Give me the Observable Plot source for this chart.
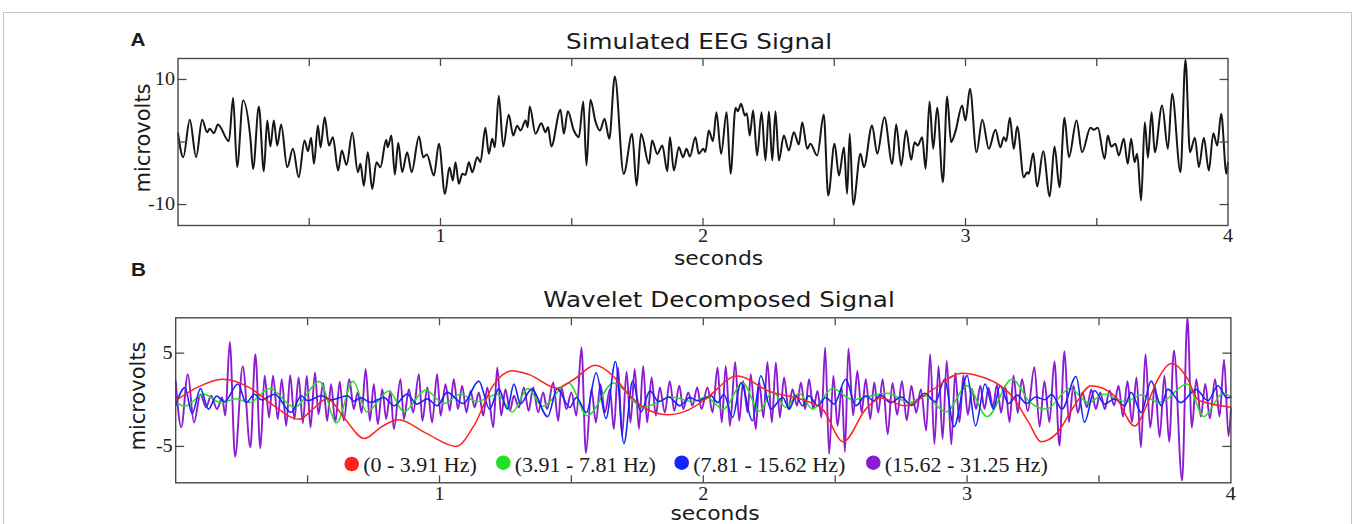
<!DOCTYPE html>
<html><head><meta charset="utf-8">
<script src="https://cdn.jsdelivr.net/npm/d3@7"></script>
<script src="https://cdn.jsdelivr.net/npm/@observablehq/plot@0.6"></script>
<style>
body{margin:0;background:#fff;}
#wrap{position:relative;width:1355px;height:524px;overflow:hidden;background:#fff;}
#wrap svg{position:absolute;left:0;}
#border{position:absolute;left:3px;top:12px;width:1349px;height:600px;border:1px solid #c4c4c4;box-sizing:border-box;pointer-events:none;}
</style></head><body><div id="wrap"></div>
<script>
// ---------- data (seconds, microvolts) ----------
const eegPoints = [[0,1.4],[0.02,-2.43],[0.045,3.55],[0.069,-2.43],[0.092,3.55],[0.111,1.57],[0.121,2.1],[0.137,1.41],[0.152,2.8],[0.194,0.13],[0.21,7.07],[0.225,-4.03],[0.248,6.64],[0.276,0.5],[0.286,-4.29],[0.308,5.68],[0.327,-4.67],[0.34,3.44],[0.352,-0.72],[0.365,3.44],[0.378,-0.56],[0.393,2.8],[0.416,-4.03],[0.438,-1.09],[0.46,-5.63],[0.482,0.24],[0.495,-1.47],[0.507,0.67],[0.518,-3.49],[0.533,2.64],[0.543,-0.83],[0.559,3.97],[0.575,-0.56],[0.59,0.77],[0.61,-4.56],[0.624,-1.36],[0.642,-3.65],[0.664,1.47],[0.685,-4.83],[0.695,-3.49],[0.708,-6.99],[0.723,-1.63],[0.74,-7.52],[0.756,-3.23],[0.771,-4.03],[0.793,0.35],[0.799,-0.83],[0.813,1.04],[0.826,-5.2],[0.839,-0.13],[0.854,-4.83],[0.873,-1.63],[0.89,-4.83],[0.918,0.88],[0.934,-2.43],[0.948,-2.0],[0.975,-5.36],[0.994,-0.29],[1.017,-8.29],[1.034,-4.03],[1.047,-6.16],[1.057,-3.23],[1.07,-6.69],[1.083,-5.09],[1.095,-5.25],[1.108,-3.23],[1.121,-4.83],[1.14,-2.43],[1.152,-3.23],[1.171,2.27],[1.184,-1.89],[1.197,0.51],[1.207,-0.83],[1.222,7.4],[1.239,-0.72],[1.26,4.35],[1.277,1.04],[1.292,2.6],[1.305,1.84],[1.324,3.44],[1.332,2.37],[1.34,5.68],[1.362,1.31],[1.384,3.01],[1.4,1.57],[1.41,2.4],[1.422,-0.72],[1.457,5.15],[1.47,1.31],[1.485,4.93],[1.508,1.84],[1.527,0.77],[1.544,6.48],[1.556,-3.76],[1.571,6.75],[1.591,3.17],[1.607,1.84],[1.625,3.71],[1.643,0.51],[1.664,10.48],[1.698,-5.09],[1.73,1.31],[1.747,-6.96],[1.764,1.31],[1.794,-3.49],[1.806,0.24],[1.826,-1.9],[1.845,-0.56],[1.864,-4.67],[1.874,0.77],[1.889,-4.56],[1.908,-0.83],[1.924,-2.43],[1.937,-1.09],[1.95,-2.32],[1.971,0.77],[1.984,-1.89],[2.001,-1.09],[2.009,-1.6],[2.022,1.84],[2.038,0.13],[2.051,4.77],[2.069,-1.89],[2.09,4.77],[2.105,-5.09],[2.124,5.47],[2.133,4.93],[2.145,6.1],[2.16,4.24],[2.167,4.61],[2.178,1.04],[2.191,5.04],[2.206,-2.16],[2.223,4.77],[2.238,-2.96],[2.251,4.88],[2.264,-2.96],[2.276,4.93],[2.289,-2.96],[2.308,1.04],[2.327,-1.36],[2.346,1.57],[2.365,-0.4],[2.378,3.17],[2.397,-1.09],[2.409,-0.29],[2.435,-2.16],[2.46,4.4],[2.477,-8.56],[2.501,-0.29],[2.518,-5.36],[2.537,-0.83],[2.549,-8.29],[2.559,1.31],[2.572,-10.05],[2.6,-1.89],[2.613,-4.03],[2.644,2.64],[2.664,-1.89],[2.691,3.97],[2.721,-3.49],[2.736,2.8],[2.755,-3.76],[2.774,1.84],[2.793,-2.85],[2.806,-0.03],[2.818,-0.56],[2.835,0.77],[2.848,-4.29],[2.863,6.48],[2.877,-1.09],[2.892,5.47],[2.914,-6.43],[2.93,7.28],[2.945,-0.03],[2.962,1.73],[2.987,5.84],[3.0,3.44],[3.017,8.51],[3.042,-1.63],[3.064,3.55],[3.089,-1.09],[3.114,1.95],[3.133,-0.83],[3.146,0.77],[3.155,0.13],[3.169,3.87],[3.184,-1.09],[3.197,2.48],[3.222,-5.63],[3.235,-4.83],[3.241,-5.09],[3.258,-1.79],[3.273,-7.12],[3.296,-1.47],[3.321,-8.72],[3.339,-0.72],[3.358,-7.23],[3.377,3.87],[3.394,-2.43],[3.423,3.44],[3.444,-1.63],[3.476,2.27],[3.489,1.95],[3.504,2.27],[3.53,-2.69],[3.542,1.04],[3.555,-0.72],[3.571,-0.29],[3.584,-2.16],[3.603,0.51],[3.618,-3.49],[3.631,0.51],[3.644,-3.23],[3.654,-1.89],[3.669,-9.36],[3.683,3.17],[3.695,-2.53],[3.709,4.77],[3.721,-1.63],[3.749,5.84],[3.771,-1.09],[3.787,7.71],[3.819,-4.83],[3.838,13.15],[3.855,-1.63],[3.874,0.67],[3.889,-4.03],[3.908,0.67],[3.927,-4.56],[3.944,1.41],[3.959,-0.56],[3.974,4.51],[3.994,-5.09],[4.0,-3.3]];

const band1Points = [[0,-0.1],[0.08,1.3],[0.178,2.2],[0.28,1.3],[0.37,-0.6],[0.467,-2.1],[0.52,-1.0],[0.575,0.1],[0.64,-2.0],[0.715,-4.15],[0.78,-2.9],[0.845,-2.15],[0.95,-3.6],[1.063,-5.0],[1.13,-2.8],[1.205,1.6],[1.275,3.1],[1.34,2.7],[1.445,1.25],[1.51,2.2],[1.59,3.7],[1.66,2.5],[1.71,0.8],[1.773,-0.8],[1.865,-1.6],[1.95,-1.0],[2.005,0.0],[2.13,2.55],[2.25,0.9],[2.376,0.0],[2.452,-1.0],[2.53,-4.5],[2.616,-1.0],[2.672,0.2],[2.765,-0.65],[2.87,1.1],[2.98,2.85],[3.05,2.5],[3.11,1.8],[3.17,0.4],[3.233,-2.4],[3.28,-4.5],[3.34,-3.6],[3.41,-0.5],[3.47,1.5],[3.56,0.4],[3.635,-2.8],[3.685,-0.3],[3.723,2.2],[3.774,3.9],[3.837,2.2],[3.875,0.0],[3.92,-0.4],[4.0,-0.8]];

const band2Points = [[0,-0.2],[0.033,-0.7],[0.107,0.6],[0.17,-0.3],[0.23,0.1],[0.28,-0.3],[0.356,1.2],[0.45,-0.8],[0.545,1.95],[0.61,-2.45],[0.672,2.0],[0.725,-1.3],[0.808,0.95],[0.865,-1.3],[0.947,1.05],[1.016,-0.4],[1.08,0.6],[1.143,-0.2],[1.219,0.6],[1.276,-1.3],[1.335,1.2],[1.39,-0.7],[1.49,1.8],[1.56,-1.7],[1.66,1.8],[1.773,-0.8],[1.88,0.3],[1.96,-0.2],[2.01,0.3],[2.075,-1.0],[2.15,1.8],[2.212,-1.2],[2.263,0.86],[2.313,-0.8],[2.363,0.7],[2.414,-1.0],[2.49,1.2],[2.566,0.0],[2.6,0.2],[2.7,0.7],[2.78,-0.3],[2.84,0.4],[2.92,-1.3],[3.0,1.5],[3.076,-1.8],[3.17,2.2],[3.24,-0.3],[3.3,-1.0],[3.39,1.2],[3.46,-0.3],[3.52,0.6],[3.6,-0.2],[3.66,0.5],[3.73,-0.3],[3.834,1.7],[3.897,-1.8],[3.97,0.7],[4.0,0.3]];

const band3Points = [[0,-0.6],[0.035,1.3],[0.062,-1.5],[0.094,1.2],[0.124,-1.0],[0.155,0.4],[0.185,-0.2],[0.236,1.7],[0.267,-0.3],[0.299,0.6],[0.324,0.0],[0.375,0.6],[0.438,-1.36],[0.476,0.43],[0.501,-0.1],[0.551,0.43],[0.589,0.0],[0.652,0.43],[0.675,-0.15],[0.701,0.2],[0.739,-0.29],[0.789,0.25],[0.827,-0.64],[0.877,0.61],[0.915,-0.46],[0.954,0.1],[0.991,-0.64],[1.029,0.79],[1.09,-0.4],[1.149,2.0],[1.19,-1.0],[1.225,1.2],[1.257,-1.0],[1.282,1.68],[1.307,-0.43],[1.349,1.14],[1.41,-1.8],[1.446,1.2],[1.494,-0.82],[1.519,0.25],[1.557,-1.36],[1.594,2.9],[1.631,-2.0],[1.667,4.1],[1.699,-4.7],[1.732,2.0],[1.764,-1.3],[1.798,0.96],[1.83,-0.2],[1.87,0.3],[1.911,-0.64],[1.949,0.25],[1.98,-0.1],[2.029,0.43],[2.055,-0.3],[2.078,0.6],[2.111,-1.9],[2.143,1.86],[2.186,-2.25],[2.218,2.57],[2.256,-1.0],[2.301,0.25],[2.326,-1.0],[2.351,0.43],[2.376,-0.64],[2.401,0.43],[2.433,-0.64],[2.464,0.25],[2.496,-0.46],[2.54,2.2],[2.578,-0.64],[2.616,0.43],[2.645,-0.1],[2.672,0.5],[2.71,-0.3],[2.75,0.3],[2.79,-0.6],[2.84,0.7],[2.88,-0.2],[2.915,2.2],[2.95,-2.9],[3.0,2.6],[3.032,-2.8],[3.068,1.7],[3.1,-1.0],[3.125,1.5],[3.157,-0.4],[3.19,0.5],[3.225,-0.4],[3.26,0.3],[3.296,0.0],[3.32,0.6],[3.36,-1.0],[3.413,2.5],[3.445,-2.4],[3.483,1.0],[3.521,-0.46],[3.559,0.1],[3.597,-0.64],[3.622,0.8],[3.66,-1.36],[3.698,2.0],[3.736,-0.64],[3.761,1.14],[3.81,-0.3],[3.868,1.1],[3.913,-0.1],[3.951,1.5],[3.985,0.2],[4.0,0.3]];

const band4Points = [[0,2.0],[0.021,-2.96],[0.046,2.75],[0.069,-2.43],[0.094,0.6],[0.115,-0.8],[0.134,0.43],[0.157,-1.0],[0.176,0.25],[0.188,-1.7],[0.205,6.2],[0.225,-6.1],[0.254,3.6],[0.283,-5.1],[0.302,4.9],[0.321,-5.2],[0.337,2.57],[0.354,-1.9],[0.369,2.57],[0.387,-2.07],[0.402,2.2],[0.419,-2.8],[0.434,2.64],[0.45,-2.1],[0.466,2.4],[0.482,-2.5],[0.497,2.57],[0.511,-2.96],[0.528,2.93],[0.541,-1.54],[0.559,1.8],[0.574,-2.25],[0.589,1.68],[0.605,-2.43],[0.622,1.93],[0.637,-2.25],[0.658,2.2],[0.675,-1.0],[0.69,0.8],[0.705,-1.4],[0.72,3.3],[0.736,-2.25],[0.751,1.68],[0.766,-2.6],[0.783,1.14],[0.798,-2.07],[0.814,0.96],[0.827,-3.14],[0.852,2.2],[0.865,-2.07],[0.884,1.14],[0.9,-1.36],[0.922,2.75],[0.935,-2.25],[0.954,1.32],[0.972,-2.43],[0.991,2.75],[1.004,-1.7],[1.023,1.68],[1.039,-1.18],[1.054,2.2],[1.07,-1.0],[1.086,1.5],[1.102,-1.36],[1.118,0.96],[1.133,-0.82],[1.149,0.79],[1.166,-1.7],[1.181,1.32],[1.204,-2.96],[1.219,3.46],[1.234,-1.7],[1.25,1.14],[1.267,-1.18],[1.282,0.43],[1.301,-0.82],[1.32,1.32],[1.338,-1.2],[1.355,1.32],[1.374,-1.36],[1.393,0.79],[1.408,-1.0],[1.431,1.86],[1.45,-2.25],[1.462,1.32],[1.481,-1.0],[1.5,0.79],[1.519,-1.7],[1.538,5.6],[1.555,-5.7],[1.576,1.14],[1.593,-2.43],[1.61,1.68],[1.627,-1.36],[1.646,1.14],[1.661,-3.14],[1.677,3.46],[1.692,-3.86],[1.709,3.0],[1.724,-2.43],[1.74,3.3],[1.756,-3.14],[1.772,3.64],[1.787,-2.43],[1.804,2.4],[1.82,-1.7],[1.835,1.32],[1.854,-1.36],[1.873,2.0],[1.89,-1.18],[1.909,1.5],[1.924,-1.0],[1.943,0.79],[1.959,-0.64],[1.977,1.32],[1.993,-1.0],[2.016,1.32],[2.035,-1.36],[2.054,3.46],[2.07,-2.43],[2.085,3.64],[2.101,-2.8],[2.121,4.07],[2.136,-2.25],[2.151,2.0],[2.168,-1.36],[2.18,2.75],[2.199,-3.14],[2.212,1.86],[2.228,-1.9],[2.243,4.07],[2.26,-2.43],[2.275,4.0],[2.29,-1.9],[2.306,2.4],[2.323,-1.0],[2.338,1.14],[2.355,-0.64],[2.37,1.86],[2.386,-1.0],[2.401,2.2],[2.417,-1.0],[2.433,0.96],[2.448,-1.9],[2.462,5.6],[2.477,-5.8],[2.493,2.57],[2.509,-2.8],[2.525,1.32],[2.537,-5.6],[2.55,5.5],[2.568,-1.7],[2.584,3.1],[2.6,-1.36],[2.616,2.2],[2.633,-2.07],[2.648,1.86],[2.663,-1.36],[2.68,2.2],[2.699,-3.7],[2.717,1.8],[2.735,-1.6],[2.753,2.0],[2.771,-2.2],[2.789,1.5],[2.807,-1.4],[2.825,1.1],[2.845,-3.3],[2.86,4.9],[2.876,-4.75],[2.892,3.64],[2.907,-4.2],[2.923,4.2],[2.94,-4.8],[2.955,2.9],[2.971,-2.4],[2.986,2.6],[3.003,-1.6],[3.018,1.2],[3.034,-1.0],[3.05,1.5],[3.066,-1.0],[3.081,1.3],[3.098,-0.8],[3.113,1.6],[3.129,-1.4],[3.144,1.5],[3.161,-2.4],[3.176,2.6],[3.192,-1.4],[3.208,2.2],[3.23,-1.2],[3.255,3.5],[3.275,-2.9],[3.293,2.0],[3.312,-2.4],[3.331,4.1],[3.35,-4.9],[3.369,5.2],[3.386,-2.4],[3.403,1.5],[3.42,-1.4],[3.437,0.8],[3.454,-0.8],[3.471,1.1],[3.488,-1.0],[3.505,0.8],[3.522,-1.0],[3.54,1.0],[3.557,-0.6],[3.574,1.5],[3.591,-1.8],[3.608,2.0],[3.625,-2.4],[3.642,2.4],[3.659,-5.1],[3.676,4.9],[3.694,-3.0],[3.712,1.5],[3.73,-4.0],[3.748,2.6],[3.766,-4.5],[3.784,5.3],[3.815,-8.65],[3.835,8.8],[3.852,-3.0],[3.869,2.2],[3.886,-1.8],[3.903,1.7],[3.92,-2.0],[3.94,2.2],[3.957,-1.8],[3.974,4.3],[3.991,-3.9],[4.0,-1.0]];

const bandLabels = ["(0 - 3.91 Hz)", "(3.91 - 7.81 Hz)", "(7.81 - 15.62 Hz)", "(15.62 - 31.25 Hz)"];
const bandColors = ["#ff2020", "#22e022", "#1424ff", "#8c1ccf"];
const xTickMarks = [0.5, 1, 1.5, 2, 2.5, 3, 3.5];
const xTickLabels = [1, 2, 3, 4];
const yTickMarksA = [-10, 0, 10];
const yTickLabelsA = [-10, 10];
const yTickMarksB = [-5, 5];
const yTickLabelsB = [-5, 5];

// ---------- rendering ----------
const wrap = document.getElementById("wrap");
const SERIF = "'Liberation Serif', 'Times New Roman', serif";
const SANS = "'DejaVu Sans', sans-serif";
const toRows = pts => pts.map(([t, v]) => ({t, v}));

function axesMarks(yMarks, yLabels) {
  return [
    Plot.frame({stroke: "#4a4a4a", strokeWidth: 1.4}),
    Plot.axisX(xTickMarks, {anchor: "bottom", tickSize: -7, tickFormat: () => "", label: null, stroke: "#4a4a4a", strokeWidth: 1.3}),
    Plot.axisX(xTickMarks, {anchor: "top", tickSize: -7, tickFormat: () => "", label: null, stroke: "#4a4a4a", strokeWidth: 1.3}),
    Plot.axisX(xTickLabels, {anchor: "bottom", tickSize: 0, tickPadding: 4, fontSize: 18, fontFamily: SERIF, label: null, tickFormat: d => String(d), fill: "#222"}),
    Plot.axisY(yMarks, {anchor: "left", tickSize: -9, tickFormat: () => "", label: null, stroke: "#4a4a4a", strokeWidth: 1.3}),
    Plot.axisY(yMarks, {anchor: "right", tickSize: -9, tickFormat: () => "", label: null, stroke: "#4a4a4a", strokeWidth: 1.3}),
    Plot.axisY(yLabels, {anchor: "left", tickSize: 0, tickPadding: 3, fontSize: 18, fontFamily: SERIF, label: null, tickFormat: d => String(d), fill: "#222"})
  ];
}

const plotA = Plot.plot({
  width: 1355, height: 270,
  marginLeft: 177.5, marginRight: 127.5, marginTop: 58, marginBottom: 45,
  style: {background: "transparent"},
  x: {domain: [0, 4]},
  y: {domain: [-13.35, 13.35]},
  marks: [
    Plot.line(toRows(eegPoints), {x: "t", y: "v", stroke: "#161616", strokeWidth: 2, curve: "monotone-x"}),
    ...axesMarks(yTickMarksA, yTickLabelsA)
  ]
});
plotA.style.top = "0px";

const bandPoints = [band1Points, band2Points, band3Points, band4Points];
const drawOrder = [3, 1, 2, 0];
const widths = [1.5, 1.5, 1.6, 1.9];
const plotB = Plot.plot({
  width: 1355, height: 254,
  marginLeft: 175.2, marginRight: 124.6, marginTop: 47.3, marginBottom: 41.7,
  style: {background: "transparent"},
  x: {domain: [0, 4]},
  y: {domain: [-8.9, 8.79]},
  marks: [
    ...drawOrder.map(k => Plot.line(toRows(bandPoints[k]), {x: "t", y: "v", stroke: bandColors[k], strokeWidth: widths[k], curve: "monotone-x"})),
    ...axesMarks(yTickMarksB, yTickLabelsB)
  ]
});
plotB.style.top = "270px";

// stretch tick labels horizontally like the reference
for (const p of [plotA, plotB]) {
  d3.select(p).selectAll("text").each(function() {
    const t = this.getAttribute("transform") || "";
    this.setAttribute("transform", t + " scale(1.12,1)");
  });
}

wrap.appendChild(plotA);
wrap.appendChild(plotB);

// overlay text layer
const ov = d3.create("svg").attr("width", 1355).attr("height", 524).style("top", "0px").style("pointer-events", "none");
function txt(str, x, y, size, family, opts = {}) {
  const sx = opts.sx ?? 1.12;
  const rot = opts.rotate ? " rotate(-90)" : "";
  ov.append("text").text(str)
    .attr("transform", `translate(${x},${y})${rot} scale(${sx},1)`)
    .attr("font-size", size).attr("font-family", family)
    .attr("font-weight", opts.bold ? "bold" : "normal")
    .attr("text-anchor", opts.anchor || "middle")
    .attr("fill", opts.fill || "#1a1a1a");
}
txt("A", 130.5, 46, 18.5, "'Liberation Sans', Arial, sans-serif", {bold: true, anchor: "start"});
txt("B", 131, 276, 18.5, "'Liberation Sans', Arial, sans-serif", {bold: true, anchor: "start"});
txt("Simulated EEG Signal", 699, 49, 22, SANS);
txt("Wavelet Decomposed Signal", 719, 306.5, 22, SANS);
txt("seconds", 718.5, 265, 19.5, SANS);
txt("seconds", 715, 520, 19.5, SANS);
txt("microvolts", 150, 138, 21, SANS, {rotate: true, sx: 1});
txt("microvolts", 145, 396, 21, SANS, {rotate: true, sx: 1});

// legend (inside panel B)
const legendX = [351.7, 503.3, 681.7, 873.3];
const legendY = [464, 462.7, 462.7, 462.7];
bandLabels.forEach((lab, k) => {
  ov.append("circle").attr("cx", legendX[k]).attr("cy", legendY[k]).attr("r", 7.3).attr("fill", bandColors[k]);
  ov.append("text").text(lab)
    .attr("x", legendX[k] + 11.5).attr("y", 471.7)
    .attr("font-size", 22).attr("font-family", SERIF).attr("fill", "#1a1a1a");
});
wrap.appendChild(ov.node());

const border = document.createElement("div");
border.id = "border";
wrap.appendChild(border);
</script></body></html>
